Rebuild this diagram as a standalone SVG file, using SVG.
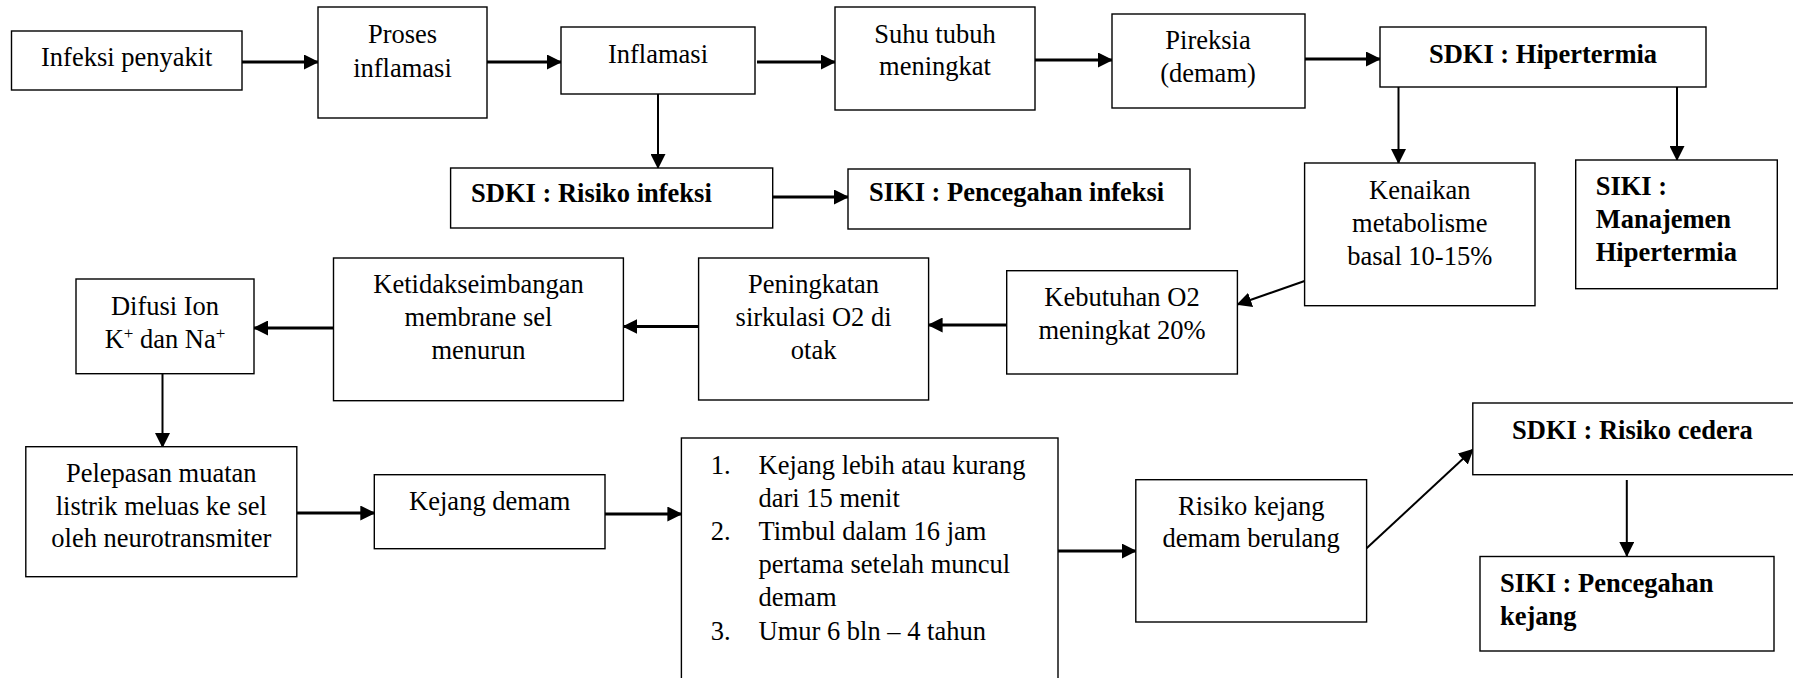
<svg xmlns="http://www.w3.org/2000/svg" width="1793" height="678" viewBox="0 0 1793 678">
<style>
.b{fill:#fff;stroke:#000;stroke-width:1.4}
.t{font-family:"Liberation Serif","Times New Roman",serif;font-size:26.5px;fill:#000}
.c{text-anchor:middle}
.bd{font-weight:bold}
.k{fill:none;stroke:#000;stroke-width:3.2}
.n{fill:none;stroke:#000;stroke-width:2}
</style>
<defs>
<marker id="ah" markerUnits="userSpaceOnUse" markerWidth="15" markerHeight="15" refX="14" refY="7.5" orient="auto" viewBox="0 0 15 15">
<path d="M0,0 L15,7.5 L0,15 z" fill="#000"/>
</marker>
</defs>
<rect width="1793" height="678" fill="#fff"/>
<g id="connectors">
<path class="k" d="M242,62 H318" marker-end="url(#ah)"/>
<path class="k" d="M487,62 H561" marker-end="url(#ah)"/>
<path class="k" d="M757,62 H835" marker-end="url(#ah)"/>
<path class="k" d="M1035,60 H1112" marker-end="url(#ah)"/>
<path class="k" d="M1305,59 H1380" marker-end="url(#ah)"/>
<path class="n" d="M658,94 V168" marker-end="url(#ah)"/>
<path class="k" d="M773,197 H848" marker-end="url(#ah)"/>
<path class="n" d="M1398.5,87 V163" marker-end="url(#ah)"/>
<path class="n" d="M1677,87 V160" marker-end="url(#ah)"/>
<path class="n" d="M1304.6,281 L1237.4,304.5" marker-end="url(#ah)"/>
<path class="k" d="M1006.7,325 H928.6" marker-end="url(#ah)"/>
<path class="k" d="M698.6,326.5 H623.4" marker-end="url(#ah)"/>
<path class="k" d="M333.5,328 H254" marker-end="url(#ah)"/>
<path class="n" d="M162.5,374 V447" marker-end="url(#ah)"/>
<path class="k" d="M297,513 H374.3" marker-end="url(#ah)"/>
<path class="k" d="M605,514 H681.4" marker-end="url(#ah)"/>
<path class="k" d="M1058,551 H1135.8" marker-end="url(#ah)"/>
<path class="n" d="M1366.6,548.3 L1473,449.5" marker-end="url(#ah)"/>
<path class="n" d="M1626.8,480 V556" marker-end="url(#ah)"/>
</g>
<g id="n1"><rect class="b" x="11.5" y="31" width="230.5" height="59"/><text class="t c" x="126.75" y="66">Infeksi penyakit</text></g>
<g id="n2"><rect class="b" x="318" y="7" width="169" height="111"/><text class="t c"><tspan x="402.5" y="43.3">Proses</tspan><tspan x="402.5" y="76.7">inflamasi</tspan></text></g>
<g id="n3"><rect class="b" x="561" y="27" width="194" height="67"/><text class="t c" x="658" y="62.7">Inflamasi</text></g>
<g id="n4"><rect class="b" x="835" y="7" width="200" height="103"/><text class="t c"><tspan x="935" y="42.5">Suhu tubuh</tspan><tspan x="935" y="75">meningkat</tspan></text></g>
<g id="n5"><rect class="b" x="1112" y="14" width="193" height="94"/><text class="t c"><tspan x="1208" y="49">Pireksia</tspan><tspan x="1208" y="82">(demam)</tspan></text></g>
<g id="n6"><rect class="b" x="1380" y="27" width="326" height="60"/><text class="t c bd" x="1543" y="62.7">SDKI : Hipertermia</text></g>
<g id="n7"><rect class="b" x="450.6" y="168" width="322.1" height="60"/><text class="t bd" x="471" y="202">SDKI : Risiko infeksi</text></g>
<g id="n8"><rect class="b" x="848" y="169" width="342" height="60"/><text class="t bd" x="869" y="201">SIKI : Pencegahan infeksi</text></g>
<g id="n9"><rect class="b" x="1304.6" y="163" width="230.4" height="142.7"/><text class="t c"><tspan x="1419.8" y="199">Kenaikan</tspan><tspan x="1419.8" y="232">metabolisme</tspan><tspan x="1419.8" y="264.5">basal 10-15%</tspan></text></g>
<g id="n10"><rect class="b" x="1575.7" y="160" width="201.6" height="128.7"/><text class="t bd"><tspan x="1595.7" y="194.5">SIKI :</tspan><tspan x="1595.7" y="228">Manajemen</tspan><tspan x="1595.7" y="261">Hipertermia</tspan></text></g>
<g id="n11"><rect class="b" x="1006.7" y="270.7" width="230.7" height="103.3"/><text class="t c"><tspan x="1122" y="306">Kebutuhan O2</tspan><tspan x="1122" y="339">meningkat 20%</tspan></text></g>
<g id="n12"><rect class="b" x="698.6" y="258" width="230" height="142"/><text class="t c"><tspan x="813.6" y="293.3">Peningkatan</tspan><tspan x="813.6" y="325.5">sirkulasi O2 di</tspan><tspan x="813.6" y="358.7">otak</tspan></text></g>
<g id="n13"><rect class="b" x="333.5" y="258" width="289.9" height="142.7"/><text class="t c"><tspan x="478.5" y="293.3">Ketidakseimbangan</tspan><tspan x="478.5" y="326">membrane sel</tspan><tspan x="478.5" y="359">menurun</tspan></text></g>
<g id="n14"><rect class="b" x="76" y="279" width="178" height="94.7"/><text class="t c"><tspan x="165" y="315">Difusi Ion</tspan><tspan x="165" y="348">K<tspan font-size="17" baseline-shift="super">+</tspan> dan Na<tspan font-size="17" baseline-shift="super">+</tspan></tspan></text></g>
<g id="n15"><rect class="b" x="25.8" y="446.7" width="271" height="130"/><text class="t c"><tspan x="161.3" y="482">Pelepasan muatan</tspan><tspan x="161.3" y="514.7">listrik meluas ke sel</tspan><tspan x="161.3" y="547.3">oleh neurotransmiter</tspan></text></g>
<g id="n16"><rect class="b" x="374.3" y="474.7" width="230.7" height="74"/><text class="t c" x="489.7" y="509.7">Kejang demam</text></g>
<g id="n17"><rect class="b" x="681.4" y="438" width="376.6" height="260"/><text class="t"><tspan x="710.7" y="474">1.</tspan><tspan x="758.5" y="474">Kejang lebih atau kurang</tspan><tspan x="758.5" y="506.5">dari 15 menit</tspan><tspan x="710.7" y="539.8">2.</tspan><tspan x="758.5" y="539.8">Timbul dalam 16 jam</tspan><tspan x="758.5" y="573">pertama setelah muncul</tspan><tspan x="758.5" y="606.3">demam</tspan><tspan x="710.7" y="639.7">3.</tspan><tspan x="758.5" y="639.7">Umur 6 bln – 4 tahun</tspan></text></g>
<g id="n18"><rect class="b" x="1135.8" y="479.7" width="230.8" height="142.3"/><text class="t c"><tspan x="1251.2" y="514.7">Risiko kejang</tspan><tspan x="1251.2" y="547.3">demam berulang</tspan></text></g>
<g id="n19"><rect class="b" x="1472.8" y="403" width="340" height="71.7"/><text class="t bd" x="1512" y="439">SDKI : Risiko cedera</text></g>
<g id="n20"><rect class="b" x="1480" y="556.5" width="294" height="94.5"/><text class="t bd"><tspan x="1500" y="592">SIKI : Pencegahan</tspan><tspan x="1500" y="625">kejang</tspan></text></g>
</svg>
